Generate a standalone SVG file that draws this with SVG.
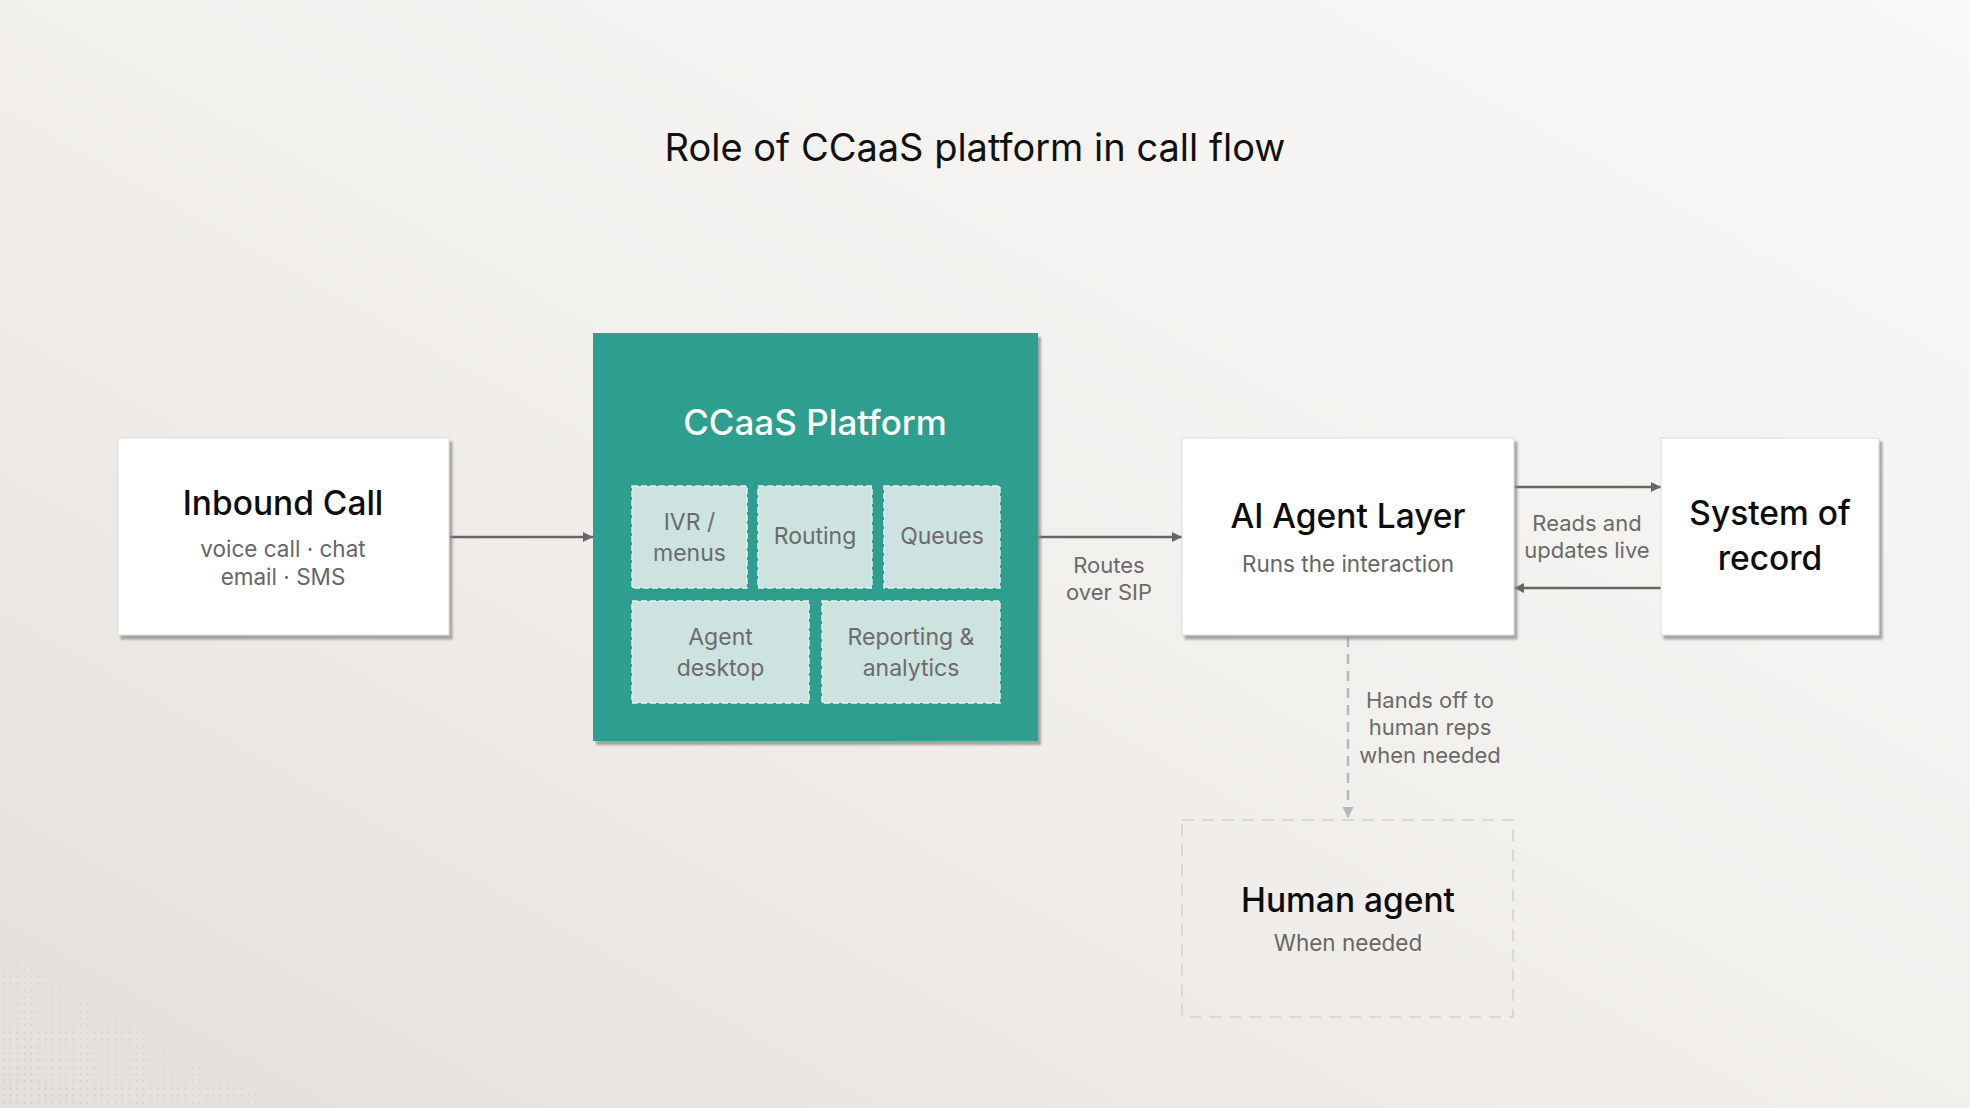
<svg xmlns="http://www.w3.org/2000/svg" width="1970" height="1108" viewBox="0 0 1970 1108">
  <defs>
    <linearGradient id="bg" x1="0" y1="1" x2="1" y2="0">
      <stop offset="0" stop-color="#e3dfdb"/>
      <stop offset="0.5" stop-color="#f2f0ed"/>
      <stop offset="1" stop-color="#f9f8f6"/>
    </linearGradient>
    <pattern id="dots" width="7" height="7" patternUnits="userSpaceOnUse">
      <circle cx="3.5" cy="3.5" r="0.9" fill="#c3c3c0"/>
    </pattern>
    <linearGradient id="dotfade" x1="0" y1="1" x2="1" y2="0">
      <stop offset="0" stop-color="#fff" stop-opacity="1"/>
      <stop offset="1" stop-color="#fff" stop-opacity="0"/>
    </linearGradient>
    <mask id="dotmask">
      <polygon points="0,950 280,1108 0,1108" fill="url(#dotfade)"/>
    </mask>
    <filter id="shadow" x="-5%" y="-5%" width="115%" height="115%">
      <feDropShadow dx="3" dy="4" stdDeviation="1.2" flood-color="#8a8a8a" flood-opacity="0.75"/>
    </filter>
    <marker id="arr" viewBox="0 0 10 10" refX="10" refY="5" markerWidth="10" markerHeight="10" markerUnits="userSpaceOnUse" orient="auto">
      <path d="M0,0 L10,5 L0,10 z" fill="#666666"/>
    </marker>
    <marker id="arrLight" viewBox="0 0 10 10" refX="10" refY="5" markerWidth="11" markerHeight="11" markerUnits="userSpaceOnUse" orient="auto">
      <path d="M0,0 L10,5 L0,10 z" fill="#b4b8b8"/>
    </marker>
    <style>
      text { font-family: Inter, "Liberation Sans", sans-serif; text-anchor: middle; }
      .title { font-size: 38px; fill: #111111; }
      .ntitle { font-size: 33.5px; font-weight: 500; fill: #0d0d0d; }
      .nsub { font-size: 22.5px; fill: #666666; }
      .label { font-size: 22px; fill: #6a6a6a; }
      .white { font-size: 35px; font-weight: 500; fill: #ffffff; }
      .sub { font-size: 23px; fill: #6b6b6b; }
      .card { fill: #ffffff; stroke: #dcdcdc; stroke-width: 1; filter: url(#shadow); }
      .mod { fill: #cde3df; stroke: #e6f0ee; stroke-width: 1.5; stroke-dasharray: 6 3; }
      .conn { stroke: #666666; stroke-width: 2.5; fill: none; marker-end: url(#arr); }
    </style>
  </defs>

  <rect width="1970" height="1108" fill="url(#bg)"/>
  <rect width="1970" height="1108" fill="url(#dots)" mask="url(#dotmask)" opacity="0.85"/>

  <text class="title" x="975" y="161">Role of CCaaS platform in call flow</text>

  <g id="connectors">
    <line class="conn" x1="449" y1="537" x2="593" y2="537"/>
    <line class="conn" x1="1038" y1="537" x2="1182" y2="537"/>
    <line class="conn" x1="1514" y1="487" x2="1661" y2="487"/>
    <line class="conn" x1="1661" y1="588" x2="1514" y2="588"/>
    <line x1="1348" y1="637" x2="1348" y2="818" stroke="#b4b8b8" stroke-width="2.5" stroke-dasharray="10 7" marker-end="url(#arrLight)"/>
    <text class="label" x="1109" y="573">Routes</text>
    <text class="label" x="1109" y="600">over SIP</text>
    <text class="label" x="1587" y="531">Reads and</text>
    <text class="label" x="1587" y="558">updates live</text>
    <text class="label" x="1430" y="708">Hands off to</text>
    <text class="label" x="1430" y="735">human reps</text>
    <text class="label" x="1430" y="763">when needed</text>
  </g>

  <g id="inbound-call">
    <rect class="card" x="118" y="438" width="331" height="197"/>
    <text class="ntitle" x="283" y="515">Inbound Call</text>
    <text class="nsub" x="283" y="557">voice call · chat</text>
    <text class="nsub" x="283" y="585">email · SMS</text>
  </g>

  <g id="ccaas-platform">
    <rect x="593" y="333" width="445" height="408" fill="#2d9e8e" filter="url(#shadow)"/>
    <text class="white" x="815" y="435">CCaaS Platform</text>
    <g id="ivr">
      <rect class="mod" x="632" y="486" width="115" height="102"/>
      <text class="sub" x="689.5" y="530">IVR /</text>
      <text class="sub" x="689.5" y="561">menus</text>
    </g>
    <g id="routing">
      <rect class="mod" x="758" y="486" width="114" height="102"/>
      <text class="sub" x="815" y="544">Routing</text>
    </g>
    <g id="queues">
      <rect class="mod" x="884" y="486" width="116" height="102"/>
      <text class="sub" x="942" y="544">Queues</text>
    </g>
    <g id="agent-desktop">
      <rect class="mod" x="632" y="601" width="177" height="102"/>
      <text class="sub" x="720.5" y="645">Agent</text>
      <text class="sub" x="720.5" y="676">desktop</text>
    </g>
    <g id="reporting">
      <rect class="mod" x="822" y="601" width="178" height="102"/>
      <text class="sub" x="911" y="645">Reporting &amp;</text>
      <text class="sub" x="911" y="676">analytics</text>
    </g>
  </g>

  <g id="ai-agent-layer">
    <rect class="card" x="1182" y="438" width="332" height="197"/>
    <text class="ntitle" x="1348" y="528">AI Agent Layer</text>
    <text class="nsub" x="1348" y="572">Runs the interaction</text>
  </g>

  <g id="system-of-record">
    <rect class="card" x="1661" y="438" width="218" height="197"/>
    <text class="ntitle" x="1770" y="525">System of</text>
    <text class="ntitle" x="1770" y="570">record</text>
  </g>

  <g id="human-agent">
    <rect x="1182" y="820" width="331" height="197" fill="none" stroke="#d8d8d6" stroke-width="2" stroke-dasharray="12 8"/>
    <text class="ntitle" x="1348" y="912">Human agent</text>
    <text class="nsub" x="1348" y="951">When needed</text>
  </g>
</svg>
